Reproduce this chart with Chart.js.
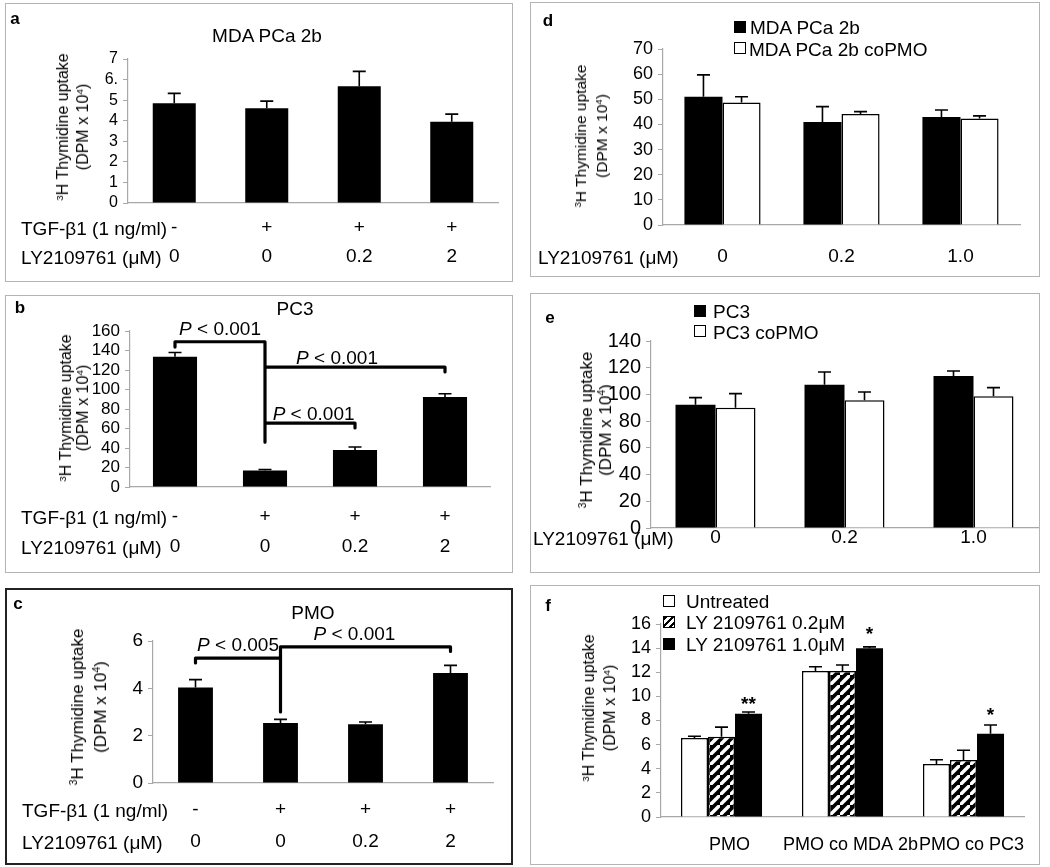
<!DOCTYPE html>
<html><head><meta charset="utf-8">
<script src="https://cdn.jsdelivr.net/npm/chart.js@4.4.1/dist/chart.umd.min.js"></script>
<style>
body{margin:0;background:#fff;}
#fig{position:relative;width:1050px;height:867px;font-family:"Liberation Sans",Arial,sans-serif;color:#000;overflow:hidden;background:#fff;}
.box{position:absolute;box-sizing:border-box;border:1px solid #b4b4b4;}
.t{position:absolute;white-space:nowrap;line-height:1;}
.c{transform:translate(-50%,-50%);}
.l{transform:translate(0,-50%);}
.yt{position:absolute;white-space:nowrap;text-align:center;transform:translate(-50%,-50%) rotate(-90deg);}
sup{font-size:0.62em;vertical-align:0.55em;line-height:0;}
canvas{position:absolute;}
.sq{position:absolute;box-sizing:border-box;width:12px;height:12px;border:1px solid #000;transform:translate(0,-50%);}
</style></head>
<body><div id="fig"></div>
<script>
// ---------------- data ----------------
const tgfRow = ['-', '+', '+', '+'];
const lyRowABC = ['0', '0', '0.2', '2'];
const aTickLabels = ['0', '1', '2', '3', '4', '5', '6.', '7'];
const aValues = [4.85, 4.6, 5.68, 3.95];
const aErrors = [0.48, 0.35, 0.72, 0.37];
const bValues = [133.5, 17, 38, 92.3];
const bErrors = [4.5, 1, 3, 3.4];
const cValues = [4.03, 2.54, 2.48, 4.65];
const cErrors = [0.34, 0.15, 0.1, 0.32];
const lyRowDE = ['0', '0.2', '1.0'];
const dMDA = [51, 41, 43];
const dMDAErr = [8.7, 6.1, 2.75];
const dMDACo = [48.7, 44.1, 42.4];
const dMDACoErr = [2.3, 1.0, 1.0];
const ePC3 = [92.3, 107.3, 113.8];
const ePC3Err = [5.3, 9.5, 3.7];
const ePC3Co = [90.1, 95.6, 98.6];
const ePC3CoErr = [10.5, 6.2, 6.5];
const fCategories = ['PMO', 'PMO co MDA 2b', 'PMO co PC3'];
const fUntreated = [6.55, 12.1, 4.4];
const fUntreatedErr = [0.15, 0.35, 0.35];
const fLY02 = [6.65, 12.1, 4.73];
const fLY02Err = [0.8, 0.5, 0.8];
const fLY10 = [8.55, 14.0, 6.9];
const fLY10Err = [0.15, 0.1, 0.73];
const fStars = ['**', '*', '*'];
const fStarValues = [9.45, 15.25, 8.5];
// significance brackets: segments in (category position, value)
const bBracketSegments = [
  [[0, 143.5], [0, 149]], [[0, 149], [1, 149]], [[1, 149], [1, 46]],
  [[1, 123], [3, 123]], [[3, 123], [3, 118]],
  [[1, 65.6], [2, 65.6]], [[2, 65.6], [2, 60.5]]
];
const bPLabels = [[0.5, 163, '<i>P</i> &lt; 0.001'], [1.8, 133, '<i>P</i> &lt; 0.001'], [1.54, 76, '<i>P</i> &lt; 0.001']];
const cBracketSegments = [
  [[0, 5.07], [0, 5.28]], [[0, 5.28], [1, 5.28]], [[1, 5.75], [1, 3.0]],
  [[1, 5.75], [3, 5.75]], [[3, 5.75], [3, 5.56]]
];
const cPLabels = [[0.5, 5.87, '<i>P</i> &lt; 0.005'], [1.87, 6.33, '<i>P</i> &lt; 0.001']];

// ---------------- helpers ----------------
const FF = '"Liberation Sans", Arial, sans-serif';
const fig = document.getElementById('fig');
function addText(html, x, y, cls, style) {
  const d = document.createElement('div');
  d.className = 't ' + cls;
  d.innerHTML = html;
  d.style.left = x + 'px'; d.style.top = y + 'px';
  Object.assign(d.style, style || {});
  fig.appendChild(d);
  return d;
}
function addYTitle(cx, cy, size, lh) {
  const d = document.createElement('div');
  d.className = 'yt';
  d.innerHTML = '<sup>3</sup>H Thymidine uptake<br>(DPM x 10<sup>4</sup>)';
  d.style.left = cx + 'px'; d.style.top = cy + 'px';
  d.style.fontSize = size + 'px'; d.style.lineHeight = lh + 'px';
  fig.appendChild(d);
}
function addSquare(x, cy, bg) {
  const s = document.createElement('div');
  s.className = 'sq';
  s.style.left = x + 'px'; s.style.top = cy + 'px';
  s.style.background = bg;
  fig.appendChild(s);
}

const hatch = (function () {
  const c = document.createElement('canvas');
  c.width = 10; c.height = 10;
  const g = c.getContext('2d');
  g.fillStyle = '#fff'; g.fillRect(0, 0, 10, 10);
  g.strokeStyle = '#000'; g.lineWidth = 3.6;
  g.beginPath();
  g.moveTo(-5, 10); g.lineTo(10, -5);
  g.moveTo(0, 15); g.lineTo(15, 0);
  g.moveTo(-5, 5); g.lineTo(5, -5);
  g.moveTo(5, 15); g.lineTo(15, 5);
  g.stroke();
  return g.createPattern(c, 'repeat');
})();

const errPlugin = {
  id: 'errbars',
  afterDatasetsDraw(chart) {
    const ctx = chart.ctx, ys = chart.scales.y;
    chart.data.datasets.forEach((ds, i) => {
      if (!ds.errorBars) return;
      const meta = chart.getDatasetMeta(i);
      meta.data.forEach((el, j) => {
        const v = ds.data[j], e = ds.errorBars[j];
        const yt = ys.getPixelForValue(v + e), yb = ys.getPixelForValue(v);
        ctx.save();
        ctx.strokeStyle = '#000'; ctx.lineWidth = 1.6;
        ctx.beginPath();
        ctx.moveTo(el.x, yb); ctx.lineTo(el.x, yt);
        ctx.moveTo(el.x - 6.5, yt); ctx.lineTo(el.x + 6.5, yt);
        ctx.stroke();
        ctx.restore();
      });
    });
  }
};
const bracketPlugin = {
  id: 'brackets',
  afterDatasetsDraw(chart, args, opts) {
    if (!opts || !opts.segments) return;
    const ctx = chart.ctx, xs = chart.scales.x, ys = chart.scales.y;
    ctx.save();
    ctx.strokeStyle = '#000'; ctx.lineWidth = 3.2; ctx.lineCap = 'round'; ctx.lineJoin = 'round';
    ctx.beginPath();
    opts.segments.forEach(s => {
      ctx.moveTo(xs.getPixelForValue(s[0][0]), ys.getPixelForValue(s[0][1]));
      ctx.lineTo(xs.getPixelForValue(s[1][0]), ys.getPixelForValue(s[1][1]));
    });
    ctx.stroke();
    ctx.restore();
  }
};

const YW = 50;
function makePanel(p) {
  const [bl, bt, br, bb] = p.box;
  const [pl, pt, pr, pb] = p.plot;
  const border = document.createElement('div');
  border.className = 'box';
  border.style.left = bl + 'px'; border.style.top = bt + 'px';
  border.style.width = (br - bl) + 'px'; border.style.height = (bb - bt) + 'px';
  if (p.dark) border.style.border = '2px solid #222';
  fig.appendChild(border);
  const cv = document.createElement('canvas');
  cv.width = br - bl; cv.height = bb - bt;
  cv.style.left = bl + 'px'; cv.style.top = bt + 'px';
  fig.appendChild(cv);
  const xh = p.xh;
  const ch = new Chart(cv, {
    type: 'bar',
    data: { labels: p.labels, datasets: p.datasets },
    options: {
      responsive: false, animation: false, events: [],
      layout: { padding: { left: pl - bl - YW, top: pt - bt, right: br - pr, bottom: bb - pb - xh } },
      plugins: { legend: { display: false }, tooltip: { enabled: false }, brackets: { segments: p.segments } },
      scales: {
        x: {
          grid: { display: false, drawTicks: false },
          border: { display: true, color: '#a8a8a8', width: 1.2 },
          ticks: { color: '#000', font: { family: FF, size: p.xFont, lineHeight: p.xLH }, padding: p.xPad, maxRotation: 0, autoSkip: false, labelOffset: p.xOff || 0 },
          afterFit: s => { s.height = xh; }
        },
        y: {
          min: 0, max: p.yMax,
          ticks: { stepSize: p.yStep, autoSkip: false, color: '#000', font: { family: FF, size: p.yFont }, padding: 5, callback: p.yCb },
          grid: { drawOnChartArea: false, drawTicks: true, tickLength: 5, color: '#a8a8a8' },
          border: { display: true, color: '#a8a8a8', width: 1.2 },
          afterFit: s => { s.width = YW; }
        }
      }
    },
    plugins: [errPlugin, bracketPlugin]
  });
  ch.$ox = bl; ch.$oy = bt;
  return ch;
}
function blackDs(data, err, pct) {
  return { data: data, errorBars: err, backgroundColor: '#000', borderWidth: 0, barPercentage: pct, categoryPercentage: 1 };
}
function pLabels(chart, list) {
  const xs = chart.scales.x, ys = chart.scales.y;
  list.forEach(l => addText(l[2], chart.$ox + xs.getPixelForValue(l[0]), chart.$oy + ys.getPixelForValue(l[1]), 'c', { fontSize: '19px' }));
}

// ---------------- panel a ----------------
makePanel({
  box: [5, 3, 513, 282], plot: [128, 59, 498, 203], xh: 70,
  labels: tgfRow.map((t, i) => [t, lyRowABC[i]]),
  datasets: [blackDs(aValues, aErrors, 0.465)],
  yMax: 7, yStep: 1, yFont: 16, yCb: (v, i) => aTickLabels[i],
  xFont: 19, xLH: 29 / 19, xPad: 10.5
});
addText('a', 15, 18, 'c', { fontSize: '17px', fontWeight: 'bold' });
addText('MDA PCa 2b', 267, 35, 'c', { fontSize: '19px' });
addText('TGF-β1 (1 ng/ml)', 21, 228, 'l', { fontSize: '19px' });
addText('LY2109761 (μM)', 21, 257, 'l', { fontSize: '19px' });
addYTitle(73, 127, 16, 20);

// ---------------- panel b ----------------
const chartB = makePanel({
  box: [5, 295, 513, 573], plot: [130, 331, 490, 487], xh: 75,
  labels: tgfRow.map((t, i) => [t, lyRowABC[i]]),
  datasets: [blackDs(bValues, bErrors, 0.49)],
  yMax: 160, yStep: 20, yFont: 17,
  xFont: 19, xLH: 30 / 19, xPad: 15,
  segments: bBracketSegments
});
pLabels(chartB, bPLabels);
addText('b', 20, 307, 'c', { fontSize: '17px', fontWeight: 'bold' });
addText('PC3', 295, 308, 'c', { fontSize: '19px' });
addText('TGF-β1 (1 ng/ml)', 21, 517, 'l', { fontSize: '19px' });
addText('LY2109761 (μM)', 21, 547, 'l', { fontSize: '19px' });
addYTitle(73.5, 408, 16, 17);

// ---------------- panel c ----------------
const chartC = makePanel({
  box: [5, 588, 513, 865], plot: [153, 641, 493, 783], xh: 75, dark: true,
  labels: tgfRow.map((t, i) => [t, lyRowABC[i]]),
  datasets: [blackDs(cValues, cErrors, 0.41)],
  yMax: 6, yStep: 2, yFont: 19,
  xFont: 19, xLH: 32 / 19, xPad: 11,
  segments: cBracketSegments
});
pLabels(chartC, cPLabels);
addText('c', 18, 603, 'c', { fontSize: '17px', fontWeight: 'bold' });
addText('PMO', 313, 612, 'c', { fontSize: '19px' });
addText('TGF-β1 (1 ng/ml)', 22, 810, 'l', { fontSize: '19px' });
addText('LY2109761 (μM)', 22, 842, 'l', { fontSize: '19px' });
addYTitle(88.5, 707, 17, 23);

// ---------------- panel d ----------------
makePanel({
  box: [530, 2, 1040, 277], plot: [663, 49, 1020, 225], xh: 45,
  labels: lyRowDE,
  datasets: [
    { data: dMDA, errorBars: dMDAErr, backgroundColor: '#000', borderWidth: 0, barPercentage: 1, categoryPercentage: 0.64 },
    { data: dMDACo, errorBars: dMDACoErr, backgroundColor: '#fff', borderColor: '#000', borderWidth: 1.5, barPercentage: 1, categoryPercentage: 0.64 }
  ],
  yMax: 70, yStep: 10, yFont: 18,
  xFont: 19, xLH: 1.2, xPad: 20.6
});
addText('d', 548, 20, 'c', { fontSize: '17px', fontWeight: 'bold' });
addSquare(734, 27, '#000');
addText('MDA PCa 2b', 750, 27, 'l', { fontSize: '19px' });
addSquare(734, 48, '#fff');
addText('MDA PCa 2b coPMO', 749, 49, 'l', { fontSize: '19px' });
addText('LY2109761 (μM)', 538, 257, 'l', { fontSize: '19px' });
addYTitle(591, 136, 15.5, 21);

// ---------------- panel e ----------------
makePanel({
  box: [530, 293, 1040, 573], plot: [651, 341, 1038, 528], xh: 30,
  labels: lyRowDE,
  datasets: [
    { data: ePC3, errorBars: ePC3Err, backgroundColor: '#000', borderWidth: 0, barPercentage: 1, categoryPercentage: 0.62 },
    { data: ePC3Co, errorBars: ePC3CoErr, backgroundColor: '#fff', borderColor: '#000', borderWidth: 1.5, barPercentage: 1, categoryPercentage: 0.62 }
  ],
  yMax: 140, yStep: 20, yFont: 20,
  xFont: 19, xLH: 1, xPad: 0.5
});
addText('e', 550, 317, 'c', { fontSize: '17px', fontWeight: 'bold' });
addSquare(694, 311, '#000');
addText('PC3', 713, 311, 'l', { fontSize: '19px' });
addSquare(694, 331, '#fff');
addText('PC3 coPMO', 713, 332, 'l', { fontSize: '19px' });
addText('LY2109761 (μM)', 533, 538, 'l', { fontSize: '19px' });
addYTitle(596, 430, 17, 19);

// ---------------- panel f ----------------
const chartF = makePanel({
  box: [530, 585, 1040, 865], plot: [661, 624, 1024, 817], xh: 45,
  labels: fCategories,
  datasets: [
    { data: fUntreated, errorBars: fUntreatedErr, backgroundColor: '#fff', borderColor: '#000', borderWidth: 1.5, barPercentage: 1, categoryPercentage: 0.67 },
    { data: fLY02, errorBars: fLY02Err, backgroundColor: hatch, borderColor: '#000', borderWidth: 1.5, barPercentage: 1, categoryPercentage: 0.67 },
    { data: fLY10, errorBars: fLY10Err, backgroundColor: '#000', borderWidth: 0, barPercentage: 1, categoryPercentage: 0.67 }
  ],
  yMax: 16, yStep: 2, yFont: 18,
  xFont: 18, xLH: 1.2, xPad: 17, xOff: 8
});
(function () {
  const meta = chartF.getDatasetMeta(2), ys = chartF.scales.y;
  fStars.forEach((s, j) => addText(s, chartF.$ox + meta.data[j].x, chartF.$oy + ys.getPixelForValue(fStarValues[j]), 'c', { fontSize: '19px', fontWeight: 'bold' }));
})();
addText('f', 548, 605, 'c', { fontSize: '17px', fontWeight: 'bold' });
addSquare(663, 601, '#fff');
addText('Untreated', 686, 601, 'l', { fontSize: '19px' });
addSquare(663, 622, 'repeating-linear-gradient(135deg,#000 0 2.6px,#fff 2.6px 5px)');
addText('LY 2109761 0.2μM', 686, 622, 'l', { fontSize: '19px' });
addSquare(663, 644, '#000');
addText('LY 2109761 1.0μM', 686, 644, 'l', { fontSize: '19px' });
addYTitle(599, 708, 16, 21);
</script>
</body></html>
